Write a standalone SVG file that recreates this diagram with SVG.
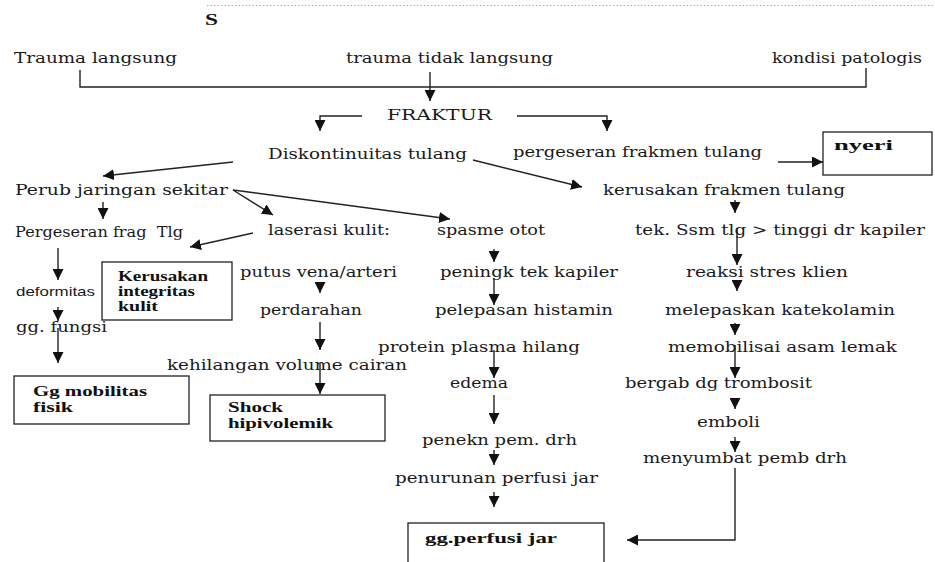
<svg xmlns="http://www.w3.org/2000/svg" width="935" height="562" viewBox="0 0 935 562">
<style>
.t{font-family:"DejaVu Serif","Liberation Serif",serif;font-size:15px;fill:#1a1a1a}
.s{font-family:"Liberation Sans","DejaVu Sans",sans-serif;font-size:13px;fill:#1a1a1a}
.b{font-family:"Liberation Serif","DejaVu Serif",serif;font-size:14px;font-weight:bold;fill:#111}
.box{fill:#fff;stroke:#222;stroke-width:1.3}
.c path{fill:none;stroke:#222;stroke-width:1.4}
.a{marker-end:url(#ah)}
</style>
<defs>
<marker id="ah" markerUnits="userSpaceOnUse" markerWidth="11" markerHeight="11" refX="10" refY="5" orient="auto" viewBox="0 0 10 10">
<path d="M0,0 L10,5 L0,10 z" fill="#111"/>
</marker>
</defs>
<rect width="935" height="562" fill="#fff"/>
<line x1="207" y1="5.5" x2="935" y2="5.5" stroke="#aaa" stroke-width="1" stroke-dasharray="1.5,2"/>
<text x="205" y="25" class="b" style="font-size:17px" textLength="13" lengthAdjust="spacingAndGlyphs">S</text>

<g id="n-trauma-langsung"><text class="t" x="14" y="63" textLength="163" lengthAdjust="spacingAndGlyphs">Trauma langsung</text></g>
<g id="n-trauma-tidak"><text class="t" x="346" y="63" textLength="207" lengthAdjust="spacingAndGlyphs">trauma tidak langsung</text></g>
<g id="n-kondisi"><text class="t" x="772" y="63" textLength="150" lengthAdjust="spacingAndGlyphs">kondisi patologis</text></g>
<g id="n-fraktur"><text class="t" x="387" y="120" textLength="105" lengthAdjust="spacingAndGlyphs">FRAKTUR</text></g>
<g id="n-diskontinuitas"><text class="t" x="268" y="159" textLength="199" lengthAdjust="spacingAndGlyphs">Diskontinuitas tulang</text></g>
<g id="n-pergeseran-frakmen"><text class="t" x="513" y="157" textLength="249" lengthAdjust="spacingAndGlyphs">pergeseran frakmen tulang</text></g>
<g id="n-nyeri"><rect class="box" x="823" y="132" width="109" height="43"/><text class="b" x="834" y="150" textLength="59" lengthAdjust="spacingAndGlyphs">nyeri</text></g>
<g id="n-perub"><text class="t" x="15" y="195" textLength="213" lengthAdjust="spacingAndGlyphs">Perub jaringan sekitar</text></g>
<g id="n-kerusakan-frakmen"><text class="t" x="603" y="195" textLength="242" lengthAdjust="spacingAndGlyphs">kerusakan frakmen tulang</text></g>
<g id="n-pergeseran-frag"><text class="t" x="15" y="237" textLength="168" lengthAdjust="spacingAndGlyphs" xml:space="preserve">Pergeseran frag  Tlg</text></g>
<g id="n-laserasi"><text class="t" x="268" y="235" textLength="122" lengthAdjust="spacingAndGlyphs">laserasi kulit:</text></g>
<g id="n-spasme"><text class="t" x="437" y="235" textLength="108" lengthAdjust="spacingAndGlyphs">spasme otot</text></g>
<g id="n-tek"><text class="t" x="635" y="235" textLength="290" lengthAdjust="spacingAndGlyphs">tek. Ssm tlg &gt; tinggi dr kapiler</text></g>
<g id="n-kerusakan-integritas"><rect class="box" x="102" y="262" width="130" height="58"/>
<text class="b" x="118" y="281" textLength="90" lengthAdjust="spacingAndGlyphs">Kerusakan</text>
<text class="b" x="118" y="296" textLength="77" lengthAdjust="spacingAndGlyphs">integritas</text>
<text class="b" x="118" y="311" textLength="40" lengthAdjust="spacingAndGlyphs">kulit</text></g>
<g id="n-putus"><text class="t" x="240" y="277" textLength="157" lengthAdjust="spacingAndGlyphs">putus vena/arteri</text></g>
<g id="n-peningk"><text class="t" x="440" y="277" textLength="178" lengthAdjust="spacingAndGlyphs">peningk tek kapiler</text></g>
<g id="n-reaksi"><text class="t" x="686" y="277" textLength="162" lengthAdjust="spacingAndGlyphs">reaksi stres klien</text></g>
<g id="n-deformitas"><text class="s" x="16" y="296" textLength="79" lengthAdjust="spacingAndGlyphs">deformitas</text></g>
<g id="n-perdarahan"><text class="t" x="260" y="315" textLength="102" lengthAdjust="spacingAndGlyphs">perdarahan</text></g>
<g id="n-pelepasan"><text class="t" x="435" y="315" textLength="178" lengthAdjust="spacingAndGlyphs">pelepasan histamin</text></g>
<g id="n-melepaskan"><text class="t" x="665" y="315" textLength="230" lengthAdjust="spacingAndGlyphs">melepaskan katekolamin</text></g>
<g id="n-gg-fungsi"><text class="t" x="16" y="332" textLength="91" lengthAdjust="spacingAndGlyphs">gg. fungsi</text></g>
<g id="n-protein"><text class="t" x="378" y="352" textLength="202" lengthAdjust="spacingAndGlyphs">protein plasma hilang</text></g>
<g id="n-memobilisai"><text class="t" x="668" y="352" textLength="229" lengthAdjust="spacingAndGlyphs">memobilisai asam lemak</text></g>
<g id="n-kehilangan"><text class="t" x="167" y="370" textLength="240" lengthAdjust="spacingAndGlyphs">kehilangan volume cairan</text></g>
<g id="n-gg-mobilitas"><rect class="box" x="14" y="376" width="175" height="48"/>
<text class="b" x="33" y="396" textLength="114" lengthAdjust="spacingAndGlyphs">Gg mobilitas</text>
<text class="b" x="33" y="412" textLength="40" lengthAdjust="spacingAndGlyphs">fisik</text></g>
<g id="n-edema"><text class="t" x="450" y="388" textLength="58" lengthAdjust="spacingAndGlyphs">edema</text></g>
<g id="n-bergab"><text class="t" x="625" y="388" textLength="187" lengthAdjust="spacingAndGlyphs">bergab dg trombosit</text></g>
<g id="n-shock"><rect class="box" x="210" y="395" width="175" height="46"/>
<text class="b" x="228" y="412" textLength="55" lengthAdjust="spacingAndGlyphs">Shock</text>
<text class="b" x="228" y="428" textLength="105" lengthAdjust="spacingAndGlyphs">hipivolemik</text></g>
<g id="n-emboli"><text class="t" x="697" y="427" textLength="63" lengthAdjust="spacingAndGlyphs">emboli</text></g>
<g id="n-penekn"><text class="t" x="422" y="445" textLength="155" lengthAdjust="spacingAndGlyphs">penekn pem. drh</text></g>
<g id="n-menyumbat"><text class="t" x="643" y="463" textLength="204" lengthAdjust="spacingAndGlyphs">menyumbat pemb drh</text></g>
<g id="n-penurunan"><text class="t" x="395" y="483" textLength="203" lengthAdjust="spacingAndGlyphs">penurunan perfusi jar</text></g>
<g id="n-gg-perfusi"><rect class="box" x="408" y="523" width="196" height="50"/>
<text class="b" x="425" y="543" textLength="132" lengthAdjust="spacingAndGlyphs">gg.perfusi jar</text></g>

<g id="connectors" class="c">
<path d="M80,70 V87 H866 V68"/>
<path class="a" d="M430,72 V101"/>
<path class="a" d="M362,116 H320 V131"/>
<path class="a" d="M517,116 H607 V131"/>
<path class="a" d="M233,162 L103,176"/>
<path class="a" d="M473,160 L582,187"/>
<path class="a" d="M778,162 H823"/>
<path class="a" d="M103,202 V219"/>
<path class="a" d="M233,190 L273,215"/>
<path class="a" d="M233,190 L450,219"/>
<path class="a" d="M253,233 L190,247"/>
<path class="a" d="M58,248 V280"/>
<path class="a" d="M58,307 V321"/>
<path class="a" d="M58,328 V363"/>
<path class="a" d="M320,282 V293"/>
<path class="a" d="M320,322 V350"/>
<path class="a" d="M320,363 V394"/>
<path class="a" d="M494,249 V262"/>
<path class="a" d="M494,278 V305"/>
<path class="a" d="M494,350 V378"/>
<path class="a" d="M494,395 V424"/>
<path class="a" d="M494,450 V465"/>
<path class="a" d="M494,492 V507"/>
<path class="a" d="M735,200 V213"/>
<path class="a" d="M737,228 V265"/>
<path class="a" d="M737,280 V291"/>
<path class="a" d="M735,323 V335"/>
<path class="a" d="M735,345 V378"/>
<path class="a" d="M735,398 V409"/>
<path class="a" d="M735,437 V452"/>
<path class="a" d="M735,468 V540 H627"/>
</g>
</svg>
